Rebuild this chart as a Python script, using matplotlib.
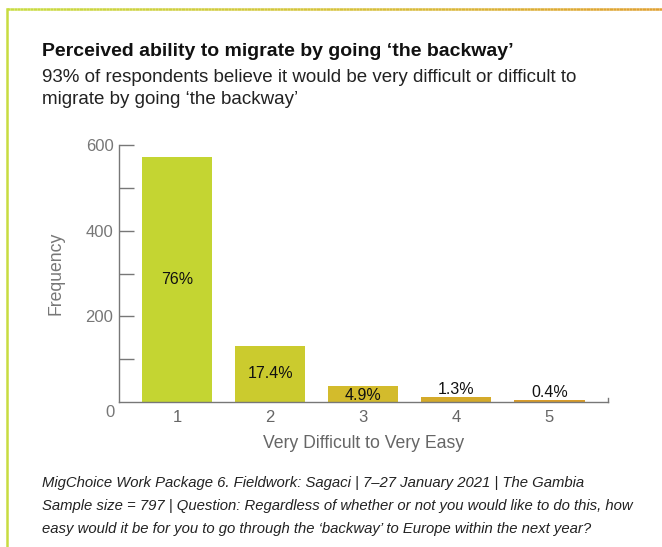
import matplotlib
matplotlib.use("Agg")
import matplotlib.pyplot as plt
import numpy as np
from matplotlib.collections import LineCollection
from matplotlib.colors import LinearSegmentedColormap

plt.rcParams['font.family'] = ['Liberation Sans', 'DejaVu Sans']

categories = [1, 2, 3, 4, 5]
frequency = [572, 131, 37, 11, 4]
pct_labels = ['76%', '17.4%', '4.9%', '1.3%', '0.4%']
label_inside = [True, True, True, False, False]
bar_colors = ['#c4d532', '#cbcb2e', '#d3bb2c', '#d4aa2a', '#d89c2a']
y_major = [200, 400, 600]
y_minor = [100, 300, 500]

W, H = 662, 547
fig = plt.figure(figsize=(W / 100, H / 100), dpi=100)

# frame decoration
bg = fig.add_axes([0, 0, 1, 1])
bg.set_xlim(0, W)
bg.set_ylim(H, 0)
bg.axis('off')
cmap = LinearSegmentedColormap.from_list('frame', ['#c8dc40', '#d6c23a', '#e0a030'])
xs = np.linspace(7, W, 200)
segs = [[(xs[i], 9), (xs[i + 1], 9)] for i in range(len(xs) - 1)]
lc = LineCollection(segs, colors=cmap(np.linspace(0, 1, len(segs))), linewidths=1.8)
bg.add_collection(lc)
bg.plot([7, 7], [9, H], color='#c8dc40', lw=1.8)

# texts
fig.text(42 / W, 1 - 52 / H, "Perceived ability to migrate by going \u2018the backway\u2019",
         fontsize=14.0, fontweight='bold', color='#111111', va='center', ha='left')
fig.text(42 / W, 1 - 77 / H, "93% of respondents believe it would be very difficult or difficult to",
         fontsize=13.5, color='#222222', va='center', ha='left')
fig.text(42 / W, 1 - 100 / H, "migrate by going \u2018the backway\u2019",
         fontsize=13.5, color='#222222', va='center', ha='left')

foot = ["MigChoice Work Package 6. Fieldwork: Sagaci | 7\u201327 January 2021 | The Gambia",
        "Sample size = 797 | Question: Regardless of whether or not you would like to do this, how",
        "easy would it be for you to go through the \u2018backway\u2019 to Europe within the next year?"]
for i, line in enumerate(foot):
    fig.text(42 / W, 1 - (483 + 23 * i) / H, line, fontsize=10.7, style='italic',
             color='#222222', va='center', ha='left')

# main axes
ax = fig.add_axes([119 / W, 1 - 402 / H, (608 - 119) / W, (402 - 145) / H])
ax.bar(categories, frequency, width=0.755, color=bar_colors, zorder=2)
ax.set_xlim(0.375, 5.63)
ax.set_ylim(0, 600)
for s in ['top', 'right']:
    ax.spines[s].set_visible(False)
for s in ['left', 'bottom']:
    ax.spines[s].set_color('#777777')
    ax.spines[s].set_linewidth(1.0)
ax.set_yticks(y_major)
ax.set_yticks(y_minor, minor=True)
ax.tick_params(axis='y', which='both', direction='in', length=11, width=1,
               color='#777777', labelcolor='#777777', labelsize=12, pad=4)
ax.set_xticks(categories)
ax.set_xticklabels([str(c) for c in categories])
ax.tick_params(axis='x', length=0, labelcolor='#666666', labelsize=12, pad=6)
ax.text(-0.008, -0.04, '0', transform=ax.transAxes, ha='right', va='center',
        fontsize=12, color='#777777')
ax.plot([1, 1], [0, 0.015], transform=ax.transAxes, color='#777777', lw=1, clip_on=False)

for c, f, lab, inside in zip(categories, frequency, pct_labels, label_inside):
    if inside:
        ax.text(c, f / 2 if f > 100 else f / 2 - 3, lab, ha='center', va='center', fontsize=11.5, color='#111111')
    else:
        ax.text(c, f + 1, lab, ha='center', va='bottom', fontsize=11.5, color='#111111')

ax.set_ylabel('Frequency', fontsize=12.7, color='#777777')
ax.yaxis.set_label_coords(-0.112, 0.5)
ax.set_xlabel('Very Difficult to Very Easy', fontsize=12.7, color='#666666', labelpad=7)

fig.savefig('out.png', dpi=100)
